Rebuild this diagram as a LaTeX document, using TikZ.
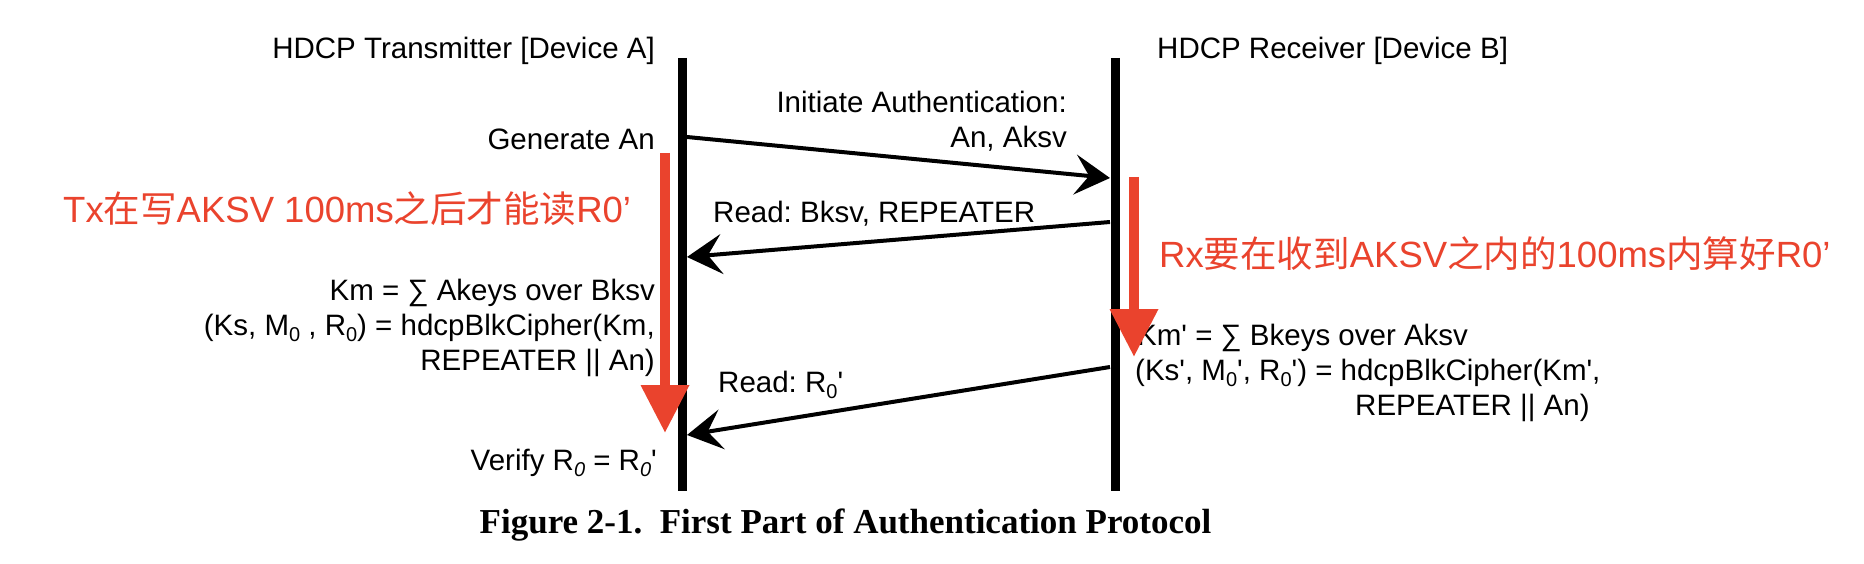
\documentclass[tikz,border=0pt]{standalone}
\usepackage{fontspec}
\setmainfont{Liberation Sans}[Ligatures=TeXOff]
\newfontfamily\cjk{Noto Sans CJK SC}
\newfontfamily\capfont{Liberation Serif}
\usetikzlibrary{arrows.meta}
\definecolor{annot}{RGB}{234,67,45}
\newcommand\lsub[1]{\raisebox{-0.22em}{\fontsize{20}{20}\selectfont #1}}
\frenchspacing
\begin{document}
\begin{tikzpicture}[x=1pt,y=-1pt,
  lbl/.style={font=\fontsize{29.5}{35}\selectfont, inner sep=0pt, text=black},
  note/.style={font=\fontsize{36.5}{42}\selectfont, inner sep=0pt, text=annot},
  lifeline/.style={line width=9pt, black},
  msg/.style={line width=4pt, black, -{Stealth[length=35pt,width=40pt,inset=14pt]}},
  hint/.style={annot, line width=10pt, -{Triangle[length=48pt,width=46pt]}}]
\useasboundingbox (0,0) rectangle (1864,564);
\fill[white] (0,0) rectangle (1864,564);

% lifelines
\coordinate (Atop) at (682.5,58);
\coordinate (Abot) at (682.5,491);
\coordinate (Btop) at (1115,58);
\coordinate (Bbot) at (1115,491);
\draw[lifeline] (Atop) -- (Abot);
\draw[lifeline] (Btop) -- (Bbot);

% headers
\node[lbl, anchor=base east] (hdrA) at (655,59) {HDCP Transmitter [Device A]};
\node[lbl, anchor=base west] (hdrB) at (1157,59) {HDCP Receiver [Device B]};

% left side texts
\node[lbl, anchor=base east] (genAn) at (655,150) {Generate An};
\node[lbl, anchor=base east] (kmA1) at (655,300) {Km = ∑ Akeys over Bksv};
\node[lbl, anchor=base east] (kmA2) at (655,335) {(Ks, M\lsub{0} , R\lsub{0}) = hdcpBlkCipher(Km,};
\node[lbl, anchor=base east] (kmA3) at (655,370) {REPEATER || An)};
\node[lbl, anchor=base east] (verify) at (657,470) {Verify R\lsub{\itshape 0} = R\lsub{\itshape 0}'};

% right side texts
\node[lbl, anchor=base west] (kmB1) at (1137,345) {Km' = ∑ Bkeys over Aksv};
\node[lbl, anchor=base west] (kmB2) at (1135,380) {(Ks', M\lsub{0}', R\lsub{0}') = hdcpBlkCipher(Km',};
\node[lbl, anchor=base west] (kmB3) at (1355,415) {REPEATER || An)};

% message labels
\node[lbl, anchor=base east] (init1) at (1067,113) {Initiate Authentication:};
\node[lbl, anchor=base east] (init2) at (1067,148) {An, Aksv};
\node[lbl, anchor=base west] (readB) at (713,223) {Read: Bksv, REPEATER};
\node[lbl, anchor=base west] (readR) at (718,392) {Read: R\lsub{0}'};

% messages
\coordinate (m1s) at (687,137);
\coordinate (m1e) at (1110,178);
\coordinate (m2s) at (1110,222);
\coordinate (m2e) at (687,257);
\coordinate (m3s) at (1110,367);
\coordinate (m3e) at (687,435);
\draw[msg] (m1s) -- (m1e);
\draw[msg] (m2s) -- (m2e);
\draw[msg] (m3s) -- (m3e);

% caption
\node[inner sep=0pt, anchor=base, font=\capfont\bfseries\fontsize{35}{40}\selectfont] (caption) at (845.5,533) {Figure 2-1.\ \ First Part of Authentication Protocol};

% red annotations
\node[note, anchor=base west] (noteTx) at (63,223) {Tx{\cjk 在写}AKSV 100ms{\cjk 之后才能读}R0’};
\node[note, anchor=base west] (noteRx) at (1159,268) {Rx{\cjk 要在收到}AKSV{\cjk 之内的}100ms{\cjk 内算好}R0’};
\coordinate (r1s) at (665,153);
\coordinate (r1e) at (665,433);
\coordinate (r2s) at (1134,177);
\coordinate (r2e) at (1134,357);
\draw[hint] (r1s) -- (r1e);
\draw[hint] (r2s) -- (r2e);
\end{tikzpicture}
\end{document}
